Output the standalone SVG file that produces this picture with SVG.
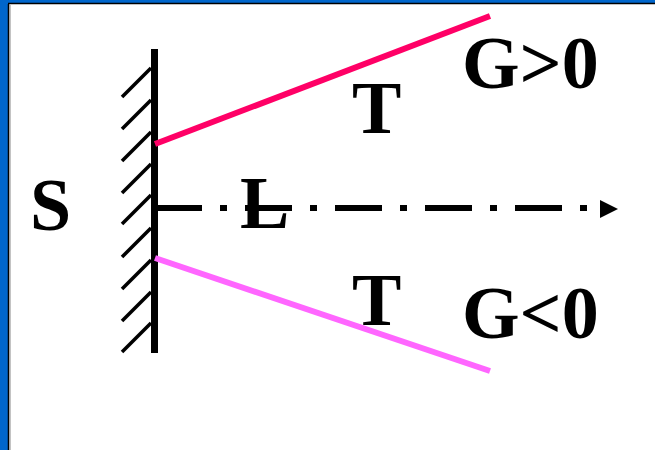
<svg xmlns="http://www.w3.org/2000/svg" width="655" height="450" viewBox="0 0 655 450">
<style>
.t{font-family:"Liberation Serif","Times New Roman",serif;font-weight:bold;font-size:74px;fill:#000}
.h{stroke:#000;stroke-width:3.5;fill:none}
</style>
<rect x="0" y="0" width="655" height="450" fill="#0066CC"/>
<rect x="9" y="4" width="646" height="446" fill="#fff"/>
<line x1="8.5" y1="4" x2="8.5" y2="450" stroke="#000" stroke-width="1.5"/>
<line x1="8" y1="3.5" x2="655" y2="3.5" stroke="#000" stroke-width="1.5"/>
<line x1="10" y1="5" x2="10" y2="450" stroke="#888" stroke-width="1"/>
<g id="wall">
<line x1="154.5" y1="49" x2="154.5" y2="353" stroke="#000" stroke-width="7"/>
<g class="h">
<line x1="122" y1="97" x2="151" y2="68"/>
<line x1="122" y1="129" x2="151" y2="100"/>
<line x1="122" y1="161" x2="151" y2="132"/>
<line x1="122" y1="193" x2="151" y2="164"/>
<line x1="122" y1="224" x2="151" y2="195"/>
<line x1="122" y1="257" x2="151" y2="228"/>
<line x1="122" y1="289" x2="151" y2="260"/>
<line x1="122" y1="321" x2="151" y2="292"/>
<line x1="122" y1="352" x2="151" y2="323"/>
</g>
</g>
<g id="connectors">
<line x1="155" y1="144" x2="490" y2="16" stroke="#FF0066" stroke-width="6"/>
<line x1="155" y1="258" x2="490" y2="371" stroke="#FF66FF" stroke-width="6"/>
<line x1="155" y1="208" x2="588" y2="208" stroke="#000" stroke-width="6" stroke-dasharray="47 18 7 18"/>
<polygon points="600,200 618,209 600,218" fill="#000"/>
</g>
<g id="labels">
<text class="t" x="30" y="230">S</text>
<text class="t" x="240" y="228">L</text>
<text class="t" x="352" y="133">T</text>
<text class="t" x="352" y="325">T</text>
<text class="t" x="462" y="88">G&gt;0</text>
<text class="t" x="462" y="338">G&lt;0</text>
</g>
</svg>
